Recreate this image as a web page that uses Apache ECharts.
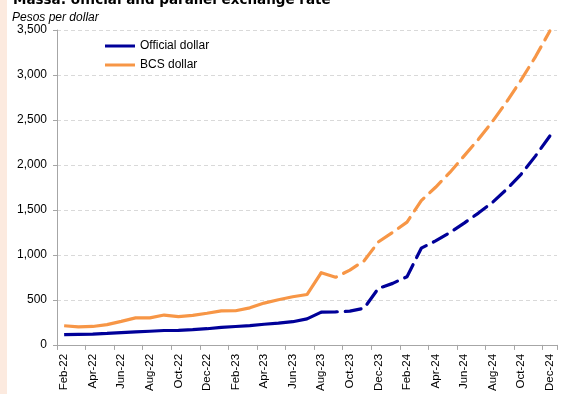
<!DOCTYPE html>
<html>
<head>
<meta charset="utf-8">
<script src="https://cdn.jsdelivr.net/npm/echarts@6/dist/echarts.min.js"></script>
<style>
html,body{margin:0;padding:0;background:#fff;}
#chart{width:562px;height:394px;}
</style>
</head>
<body>
<div id="chart"></div>
<script>
var categories = ['Feb-22','Mar-22','Apr-22','May-22','Jun-22','Jul-22','Aug-22','Sep-22','Oct-22','Nov-22','Dec-22',
  'Jan-23','Feb-23','Mar-23','Apr-23','May-23','Jun-23','Jul-23','Aug-23','Sep-23','Oct-23','Nov-23','Dec-23',
  'Jan-24','Feb-24','Mar-24','Apr-24','May-24','Jun-24','Jul-24','Aug-24','Sep-24','Oct-24','Nov-24','Dec-24'];

// Actual values Feb-22 .. Aug-23
var officialActual = [114,118,121,128,136,144,152,160,162,170,180,195,205,215,230,242,258,290,365];
var bcsActual      = [213,200,205,225,262,300,300,332,315,328,352,378,380,412,465,502,535,560,803];
// Projections Sep-23 .. Dec-24
var officialProj = [368,375,408,629,684,758,1075,1156,1248,1354,1465,1586,1733,1899,2101,2322];
var bcsProj      = [751,832,935,1145,1251,1365,1604,1752,1917,2101,2285,2487,2708,2948,3205,3489];

var yTicks = {min:0, max:3500, interval:500};

function buildSolid(actual){
  var out = [];
  for (var i=0;i<categories.length;i++) out.push(i<actual.length ? actual[i] : null);
  return out;
}
function buildDashed(actual, proj){
  var out = [];
  var n = actual.length;
  for (var i=0;i<categories.length;i++){
    if (i < n-1) out.push(null);
    else if (i === n-1) out.push(actual[n-1]);
    else out.push(proj[i-n]);
  }
  return out;
}

var BLUE = '#000099', ORANGE = '#F79646';
var FONT = 'Liberation Sans';

var chart = echarts.init(document.getElementById('chart'), null, {renderer:'canvas'});
chart.setOption({
  animation:false,
  backgroundColor:'#ffffff',
  graphic:[{type:'rect', left:0, top:0, shape:{x:0,y:0,width:7,height:394}, style:{fill:'#FCEADF'}, z:-1}],
  title:[
    {text:'Massa: official and parallel exchange rate', left:8, top:-12,
     textStyle:{fontFamily:'DejaVu Sans', fontSize:13.5, fontWeight:'bold', color:'#000'}},
    {text:'Pesos per dollar', left:7, top:7,
     textStyle:{fontFamily:FONT, fontSize:12, fontStyle:'italic', fontWeight:'normal', color:'#000'}}
  ],
  legend:{
    orient:'vertical', left:100, top:35, itemWidth:30, itemHeight:3, itemGap:7,
    icon:'rect',
    data:[{name:'Official dollar', itemStyle:{color:BLUE}}, {name:'BCS dollar', itemStyle:{color:ORANGE}}],
    textStyle:{fontFamily:FONT, fontSize:12, color:'#000'}
  },
  grid:{left:57, right:5, top:30, bottom:47, containLabel:false},
  xAxis:{
    type:'category', data:categories, boundaryGap:true,
    axisLine:{lineStyle:{color:'#A6A6A6', width:1}},
    axisTick:{show:true, length:5, interval:1, alignWithLabel:false, lineStyle:{color:'#A6A6A6'}},
    axisLabel:{interval:1, rotate:90, margin:9, fontFamily:FONT, fontSize:11.5, color:'#000'},
    splitLine:{show:false}
  },
  yAxis:{
    type:'value', min:yTicks.min, max:yTicks.max, interval:yTicks.interval,
    axisLine:{show:true, lineStyle:{color:'#A6A6A6', width:1}},
    axisTick:{show:true, length:4, lineStyle:{color:'#A6A6A6'}},
    axisLabel:{margin:10, fontFamily:FONT, fontSize:12, color:'#000',
      formatter:function(v){return v.toLocaleString('en-US');}},
    splitLine:{show:true, lineStyle:{color:'#D9D9D9', type:[4,3], width:1}}
  },
  series:[
    {name:'Official dollar', type:'line', data:buildSolid(officialActual), symbol:'none', z:3,
     lineStyle:{color:BLUE, width:3.2}, itemStyle:{color:BLUE}},
    {name:'Official dollar', type:'line', data:buildDashed(officialActual, officialProj), symbol:'none', z:3,
     lineStyle:{color:BLUE, width:3.2, type:[16,8], cap:'round'}, itemStyle:{color:BLUE}},
    {name:'BCS dollar', type:'line', data:buildSolid(bcsActual), symbol:'none', z:2,
     lineStyle:{color:ORANGE, width:3.2}, itemStyle:{color:ORANGE}},
    {name:'BCS dollar', type:'line', data:buildDashed(bcsActual, bcsProj), symbol:'none', z:2,
     lineStyle:{color:ORANGE, width:3.2, type:[16,8], cap:'round'}, itemStyle:{color:ORANGE}}
  ]
});
</script>
</body>
</html>
